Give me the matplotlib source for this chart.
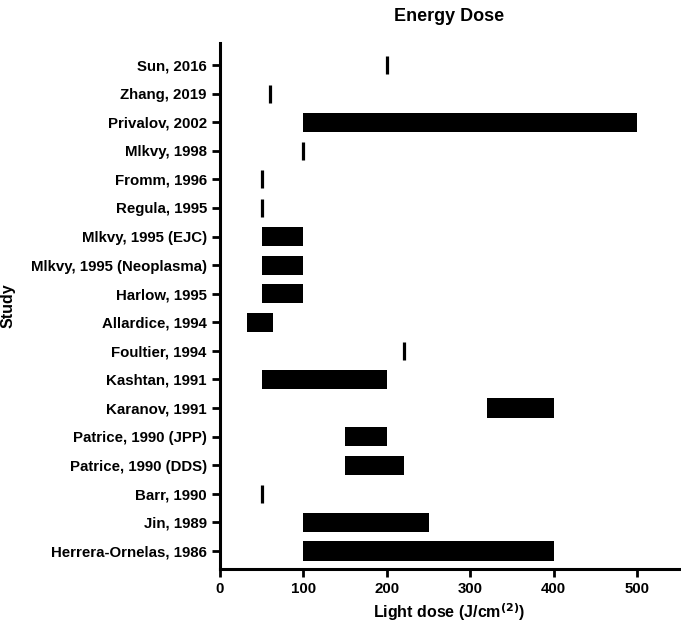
import matplotlib.pyplot as plt

plt.rcParams['font.family'] = ['Liberation Sans', 'DejaVu Sans']
plt.rcParams['font.weight'] = 'bold'

# ---------------------------------------
# Data
# ---------------------------------------
studies = [
    "Sun, 2016", "Zhang, 2019", "Privalov, 2002", "Mlkvy, 1998",
    "Fromm, 1996", "Regula, 1995", "Mlkvy, 1995 (EJC)",
    "Mlkvy, 1995 (Neoplasma)", "Harlow, 1995", "Allardice, 1994",
    "Foultier, 1994", "Kashtan, 1991", "Karanov, 1991",
    "Patrice, 1990 (JPP)", "Patrice, 1990 (DDS)", "Barr, 1990",
    "Jin, 1989", "Herrera-Ornelas, 1986",
]
dose_low = [200, 60, 100, 100, 50, 50, 50, 50, 50, 32, 220, 50, 320, 150, 150, 50, 100, 100]
dose_high = [200, 60, 500, 100, 50, 50, 100, 100, 100, 63, 220, 200, 400, 200, 220, 50, 250, 400]

# ---------------------------------------
# Plot
# ---------------------------------------
fig = plt.figure(figsize=(6.81, 6.3), dpi=100)
ax = fig.add_axes([0.323, 0.0968, 0.674, 0.835])

pos = list(range(len(studies)))
for i, lo, hi in zip(pos, dose_low, dose_high):
    if hi > lo:
        ax.barh(i, hi - lo, left=lo, height=0.67, color="black")
    else:
        ax.plot([lo], [i], marker="|", color="black", markersize=13,
                markeredgewidth=2.3)

ax.set_yticks(pos)
ax.set_yticklabels(studies)
ax.set_ylim(len(studies) - 1 + 0.63, -0.77)
ax.set_xlim(0, 550)
ax.set_xticks([0, 100, 200, 300, 400, 500])

for s in ["top", "right"]:
    ax.spines[s].set_visible(False)
for s in ["left", "bottom"]:
    ax.spines[s].set_linewidth(2.2)
ax.tick_params(width=2, length=6, labelsize=10.8)

ax.set_xlabel("Light dose (J/cm$^{\\mathbf{(2)}}$)", fontsize=11.5, fontweight="bold")
ax.set_ylabel("Study", fontsize=11.5, fontweight="bold")
ax.yaxis.set_label_coords(-0.445, 0.5)
ax.set_title("Energy Dose", fontsize=13, fontweight="bold", pad=16)

fig.savefig("out.png", dpi=100)
